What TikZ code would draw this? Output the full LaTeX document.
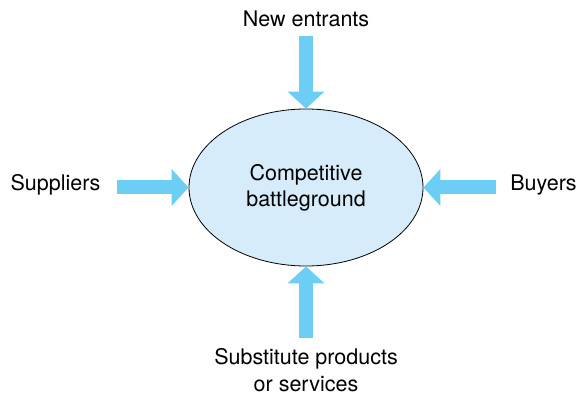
\documentclass[tikz,border=0pt]{standalone}
\usepackage{fontspec}
\setmainfont{TeX Gyre Heros}
\usetikzlibrary{positioning,shapes.geometric,arrows.meta}
\definecolor{forceblue}{RGB}{108,206,245}
\definecolor{fieldblue}{RGB}{214,236,250}

\begin{document}
\begin{tikzpicture}[x=1pt, y=-1pt,
  force/.style={forceblue, line width=14pt, -{Triangle[width=36pt,length=17pt]}},
  forcetext/.style={font=\fontsize{21.5}{26.5}\selectfont, align=center, inner sep=0pt}]
  \useasboundingbox (0,0) rectangle (577,395);
  \node [ellipse, draw, fill=fieldblue, line width=0.8pt, minimum width=234pt,
         minimum height=157pt, inner sep=0pt] (battle) at (306,187.5) {};
  \node [forcetext, anchor=base] (battletext) at (306,207) {Competitive\\battleground};
  \node [forcetext, anchor=base] (entrants) at (306,27) {New entrants};
  \node [forcetext, anchor=base] (suppliers) at (55.5,190) {Suppliers};
  \node [forcetext, anchor=base] (buyers) at (543.5,190) {Buyers};
  \node [forcetext, anchor=base] (substitutes) at (306,391) {Substitute products\\or services};
  % forces pushing on the battleground
  \draw [force] ([yshift=-8pt]entrants.south) -- (battle.north);
  \draw [force] ([xshift=16pt]suppliers.east |- battle.west) -- (battle.west);
  \draw [force] ([xshift=-14pt]buyers.west |- battle.east) -- (battle.east);
  \draw [force] ([yshift=10pt]substitutes.north) -- (battle.south);
\end{tikzpicture}
\end{document}
